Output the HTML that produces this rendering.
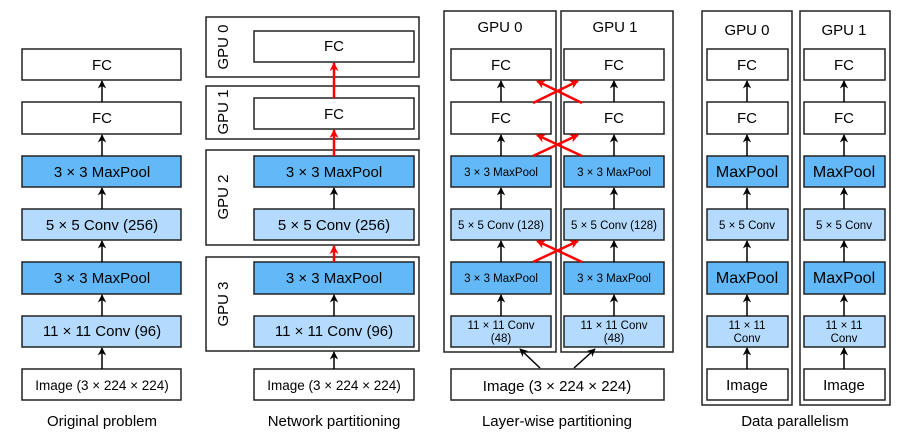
<!DOCTYPE html>
<html><head><meta charset="utf-8"><style>body{margin:0;background:#fff}svg{display:block}</style></head><body>
<svg width="914" height="436" viewBox="0 0 914 436" xmlns="http://www.w3.org/2000/svg" font-family="Liberation Sans, Arial, sans-serif">
<defs>
<marker id="a" viewBox="0 0 10 10" refX="9" refY="5" markerWidth="5.5" markerHeight="5.5" orient="auto"><path d="M0,0 L10,5 L0,10 L3,5z" fill="#000"/></marker>
<marker id="r" viewBox="0 0 10 10" refX="9" refY="5" markerWidth="3.6" markerHeight="3.6" orient="auto"><path d="M0,0 L10,5 L0,10 L3,5z" fill="#f00"/></marker>
</defs>
<g stroke="#222" stroke-width="1.5">
<rect x="22" y="49" width="159" height="31" fill="#fff"/>
<rect x="22" y="102" width="159" height="32" fill="#fff"/>
<rect x="22" y="156" width="159" height="31" fill="#63b8f8"/>
<rect x="22" y="209" width="159" height="31" fill="#b4dafd"/>
<rect x="22" y="262" width="159" height="32" fill="#63b8f8"/>
<rect x="22" y="316" width="159" height="31" fill="#b4dafd"/>
<rect x="22" y="369" width="159" height="31" fill="#fff"/>
<rect x="206" y="17" width="213" height="60" fill="#fff"/>
<rect x="206" y="86" width="213" height="53" fill="#fff"/>
<rect x="206" y="150" width="213" height="95" fill="#fff"/>
<rect x="206" y="257" width="213" height="94" fill="#fff"/>
<rect x="254" y="31" width="160" height="31" fill="#fff"/>
<rect x="254" y="98" width="160" height="31" fill="#fff"/>
<rect x="254" y="156" width="160" height="31" fill="#63b8f8"/>
<rect x="254" y="209" width="160" height="31" fill="#b4dafd"/>
<rect x="254" y="262" width="160" height="32" fill="#63b8f8"/>
<rect x="254" y="316" width="160" height="31" fill="#b4dafd"/>
<rect x="254" y="369" width="160" height="31" fill="#fff"/>
<rect x="444" y="11" width="112" height="341" fill="#fff"/>
<rect x="561" y="11" width="112" height="341" fill="#fff"/>
<rect x="451" y="49" width="100" height="31" fill="#fff"/>
<rect x="451" y="102" width="100" height="32" fill="#fff"/>
<rect x="451" y="156" width="100" height="31" fill="#63b8f8"/>
<rect x="451" y="209" width="100" height="31" fill="#b4dafd"/>
<rect x="451" y="262" width="100" height="32" fill="#63b8f8"/>
<rect x="451" y="316" width="100" height="31" fill="#b4dafd"/>
<rect x="564" y="49" width="100" height="31" fill="#fff"/>
<rect x="564" y="102" width="100" height="32" fill="#fff"/>
<rect x="564" y="156" width="100" height="31" fill="#63b8f8"/>
<rect x="564" y="209" width="100" height="31" fill="#b4dafd"/>
<rect x="564" y="262" width="100" height="32" fill="#63b8f8"/>
<rect x="564" y="316" width="100" height="31" fill="#b4dafd"/>
<rect x="451" y="369" width="213" height="31" fill="#fff"/>
<rect x="702" y="11" width="90" height="394" fill="#fff"/>
<rect x="800" y="11" width="90" height="394" fill="#fff"/>
<rect x="707" y="49" width="81" height="31" fill="#fff"/>
<rect x="707" y="102" width="81" height="32" fill="#fff"/>
<rect x="707" y="156" width="81" height="31" fill="#63b8f8"/>
<rect x="707" y="209" width="81" height="31" fill="#b4dafd"/>
<rect x="707" y="262" width="81" height="32" fill="#63b8f8"/>
<rect x="707" y="316" width="81" height="31" fill="#b4dafd"/>
<rect x="707" y="369" width="81" height="31" fill="#fff"/>
<rect x="804" y="49" width="81" height="31" fill="#fff"/>
<rect x="804" y="102" width="81" height="32" fill="#fff"/>
<rect x="804" y="156" width="81" height="31" fill="#63b8f8"/>
<rect x="804" y="209" width="81" height="31" fill="#b4dafd"/>
<rect x="804" y="262" width="81" height="32" fill="#63b8f8"/>
<rect x="804" y="316" width="81" height="31" fill="#b4dafd"/>
<rect x="804" y="369" width="81" height="31" fill="#fff"/>
</g>
<g stroke="#000" stroke-width="1.5" marker-end="url(#a)">
<path d="M102,102V81"/><path d="M102,156V135"/><path d="M102,209V188"/><path d="M102,262V241"/><path d="M102,316V295"/><path d="M102,369V348"/>
<path d="M334,209V188"/><path d="M334,316V295"/><path d="M334,369V352"/>
<path d="M501,102V81"/><path d="M501,156V135"/><path d="M501,209V188"/><path d="M501,262V241"/><path d="M501,316V295"/>
<path d="M614,102V81"/><path d="M614,156V135"/><path d="M614,209V188"/><path d="M614,262V241"/><path d="M614,316V295"/>
<path d="M540,368L520,349"/><path d="M574,368L595,349"/>
<path d="M747,102V81"/><path d="M747,156V135"/><path d="M747,209V188"/><path d="M747,262V241"/><path d="M747,316V295"/><path d="M747,369V348"/>
<path d="M844,102V81"/><path d="M844,156V135"/><path d="M844,209V188"/><path d="M844,262V241"/><path d="M844,316V295"/><path d="M844,369V348"/>
</g>
<g stroke="#f00" stroke-width="2.5" marker-end="url(#r)">
<path d="M334,98V63"/><path d="M334,156V130"/><path d="M334,262V246"/>
<path d="M533,103L578,81"/><path d="M582,103L537,81"/>
<path d="M533,156L578,135"/><path d="M582,156L537,135"/>
<path d="M533,262L578,241"/><path d="M582,262L537,241"/>
</g>
<g font-size="15" text-anchor="middle" fill="#000">
<text x="102" y="70">FC</text><text x="102" y="123">FC</text>
<text x="102" y="177">3 × 3 MaxPool</text><text x="102" y="230">5 × 5 Conv (256)</text>
<text x="102" y="283">3 × 3 MaxPool</text><text x="102" y="336">11 × 11 Conv (96)</text>
<text x="102" y="390" font-size="13.5">Image (3 × 224 × 224)</text>
<text x="334" y="51">FC</text><text x="334" y="119">FC</text>
<text x="334" y="177">3 × 3 MaxPool</text><text x="334" y="230">5 × 5 Conv (256)</text>
<text x="334" y="283">3 × 3 MaxPool</text><text x="334" y="336">11 × 11 Conv (96)</text>
<text x="334" y="390" font-size="13.5">Image (3 × 224 × 224)</text>
<text transform="translate(228,47) rotate(-90)">GPU 0</text>
<text transform="translate(228,112) rotate(-90)">GPU 1</text>
<text transform="translate(228,197) rotate(-90)">GPU 2</text>
<text transform="translate(228,304) rotate(-90)">GPU 3</text>
<text x="500" y="32">GPU 0</text><text x="615" y="32">GPU 1</text>
<text x="501" y="70">FC</text><text x="501" y="123">FC</text>
<text x="614" y="70">FC</text><text x="614" y="123">FC</text>
<g font-size="11.5"><text x="501" y="176">3 × 3 MaxPool</text><text x="614" y="176">3 × 3 MaxPool</text>
<text x="501" y="229">5 × 5 Conv (128)</text><text x="614" y="229">5 × 5 Conv (128)</text>
<text x="501" y="282">3 × 3 MaxPool</text><text x="614" y="282">3 × 3 MaxPool</text>
<text x="501" y="329">11 × 11 Conv</text><text x="501" y="342">(48)</text>
<text x="614" y="329">11 × 11 Conv</text><text x="614" y="342">(48)</text>
<text x="747" y="229">5 × 5 Conv</text><text x="844" y="229">5 × 5 Conv</text>
<text x="747" y="329">11 × 11</text><text x="747" y="342">Conv</text>
<text x="844" y="329">11 × 11</text><text x="844" y="342">Conv</text></g>
<text x="557" y="391">Image (3 × 224 × 224)</text>
<text x="747" y="35">GPU 0</text><text x="844" y="35">GPU 1</text>
<text x="747" y="70">FC</text><text x="747" y="123">FC</text>
<text x="844" y="70">FC</text><text x="844" y="123">FC</text>
<text x="747" y="177" font-size="16">MaxPool</text><text x="844" y="177" font-size="16">MaxPool</text>
<text x="747" y="283" font-size="16">MaxPool</text><text x="844" y="283" font-size="16">MaxPool</text>
<text x="747" y="390">Image</text><text x="844" y="390">Image</text>
<text x="102" y="426">Original problem</text>
<text x="334" y="426">Network partitioning</text>
<text x="557" y="426">Layer-wise partitioning</text>
<text x="795" y="426">Data parallelism</text>
</g>
</svg>
</body></html>
